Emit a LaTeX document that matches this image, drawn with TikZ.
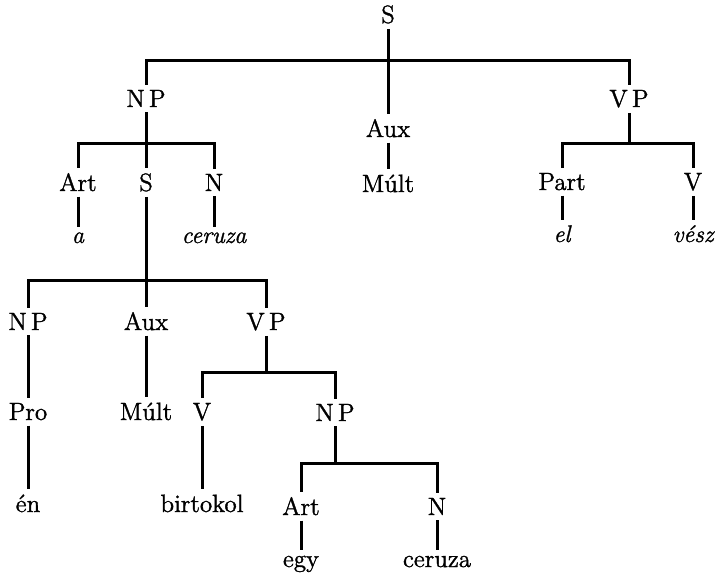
\documentclass[tikz,border=0pt]{standalone}
\usepackage{fontspec}
\usepackage{tikz}
\newfontfamily\treefont{Latin Modern Roman}[FakeBold=1.3]
\tikzset{
  x=0.5pt, y=-0.5pt,
  branch/.style = {line width=1.5pt},
  cat/.style = {anchor=base, inner sep=2.5pt, font=\treefont\fontsize{12.5}{15}\selectfont},
  word/.style = {cat},
  itword/.style = {cat, font=\treefont\fontsize{12}{15}\selectfont\itshape},
}

\begin{document}
\begin{tikzpicture}
  \useasboundingbox (0,0) rectangle (715,572);
  % main clause
  \node (S)     [cat] at (388,23)  {S};
  \node (NP)    [cat] at (146,107) {N\,P};
  \node (Aux)   [cat] at (388,137) {Aux};
  \node (VP)    [cat] at (629,107) {V\,P};
  \node (Mult)  [word] at (388,192) {Múlt};
  \node (Art)   [cat] at (78,191)  {Art};
  \node (Srel)  [cat] at (146,191) {S};
  \node (N)     [cat] at (214,191) {N};
  \node (a)     [itword] at (78,243)  {a};
  \node (ceruza) [itword] at (214,243) {ceruza};
  \node (Part)  [cat] at (562,190) {Part};
  \node (V)     [cat] at (693,190) {V};
  \node (el)    [itword] at (562,242) {el};
  \node (vesz)  [itword] at (693,242) {vész};
  % embedded clause
  \node (NPe)   [cat] at (28,330)  {N\,P};
  \node (Auxe)  [cat] at (146,330) {Aux};
  \node (VPe)   [cat] at (266,330) {V\,P};
  \node (Pro)   [cat] at (28,420)  {Pro};
  \node (Multe) [word] at (146,420) {Múlt};
  \node (Ve)    [cat] at (202,420) {V};
  \node (NPo)   [cat] at (335,421) {N\,P};
  \node (en)    [word] at (28,512)  {én};
  \node (birt)  [word] at (202,512) {birtokol};
  \node (Arto)  [cat] at (301,515) {Art};
  \node (No)    [cat] at (437,515) {N};
  \node (egy)   [word] at (301,567) {egy};
  \node (cer)   [word] at (437,567) {ceruza};

  \coordinate (jS)   at (388,61);
  \coordinate (jNP)  at (146,144);
  \coordinate (jVP)  at (629,144);
  \coordinate (jSe)  at (146,280);
  \coordinate (jVPe) at (266,372);
  \coordinate (jNPo) at (335,463);

  \draw[branch] (S) -- (jS) -| (NP);
  \draw[branch] (jS) -| (VP);
  \draw[branch] (jS) -- (Aux);
  \draw[branch] (Aux) -- (Mult);
  \draw[branch] (NP) -- (jNP) -| (Art);
  \draw[branch] (jNP) -| (N);
  \draw[branch] (jNP) -- (Srel);
  \draw[branch] (Art) -- (a);
  \draw[branch] (N) -- (ceruza);
  \draw[branch] (VP) -- (jVP) -| (Part);
  \draw[branch] (jVP) -| (V);
  \draw[branch] (Part) -- (el);
  \draw[branch] (V) -- (vesz);
  \draw[branch] (Srel) -- (jSe) -| (NPe);
  \draw[branch] (jSe) -| (VPe);
  \draw[branch] (jSe) -- (Auxe);
  \draw[branch] (NPe) -- (Pro);
  \draw[branch] (Pro) -- (en);
  \draw[branch] (Auxe) -- (Multe);
  \draw[branch] (VPe) -- (jVPe) -| (Ve);
  \draw[branch] (jVPe) -| (NPo);
  \draw[branch] (Ve) -- (birt);
  \draw[branch] (NPo) -- (jNPo) -| (Arto);
  \draw[branch] (jNPo) -| (No);
  \draw[branch] (Arto) -- (egy);
  \draw[branch] (No) -- (cer);
\end{tikzpicture}
\end{document}
